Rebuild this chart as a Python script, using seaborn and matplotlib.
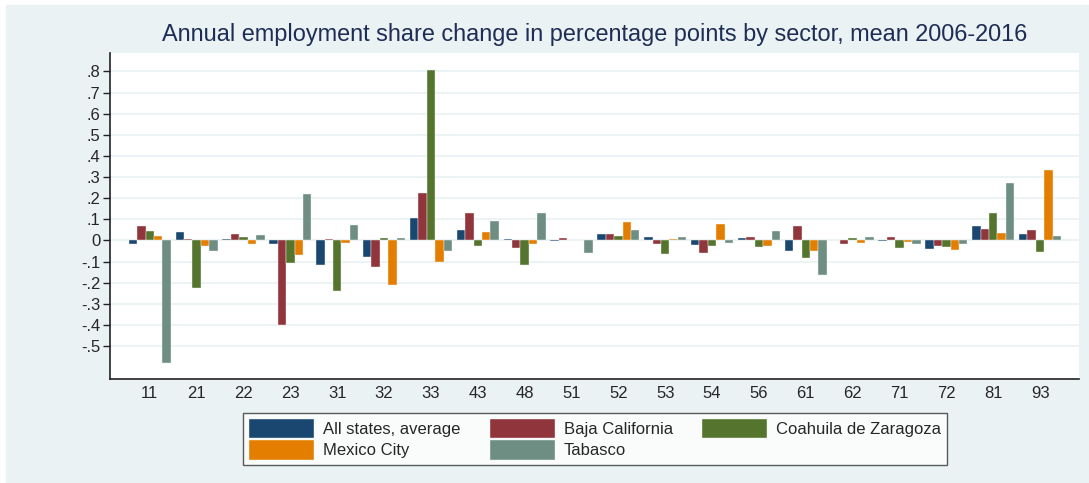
import pandas as pd
import matplotlib.pyplot as plt
import matplotlib.patches as mpatches
import seaborn as sns

# sector codes and series values (percentage points)
sectors = ['11', '21', '22', '23', '31', '32', '33', '43', '48', '51',
           '52', '53', '54', '56', '61', '62', '71', '72', '81', '93']
series = ['All states, average', 'Baja California', 'Coahuila de Zaragoza',
          'Mexico City', 'Tabasco']

all_states = [-0.016, 0.038, 0.006, -0.019, -0.115, -0.079, 0.104, 0.050, 0.005, -0.003,
              0.031, 0.016, -0.022, 0.011, -0.050, 0.003, -0.003, -0.039, 0.070, 0.028]
baja = [0.066, 0.005, 0.030, -0.400, 0.009, -0.124, 0.226, 0.130, -0.036, 0.013,
        0.028, -0.017, -0.061, 0.016, 0.067, -0.016, 0.014, -0.028, 0.052, 0.048]
coahuila = [0.045, -0.223, 0.017, -0.108, -0.240, 0.013, 0.806, -0.025, -0.116, 0.003,
            0.019, -0.066, -0.027, -0.033, -0.082, 0.011, -0.036, -0.031, 0.128, -0.055]
mexico_city = [0.020, -0.025, -0.016, -0.071, -0.011, -0.211, -0.103, 0.042, -0.017, 0.003,
               0.085, 0.009, 0.077, -0.028, -0.050, -0.013, -0.008, -0.045, 0.033, 0.333]
tabasco = [-0.580, -0.050, 0.024, 0.220, 0.072, 0.011, -0.050, 0.090, 0.131, -0.058,
           0.050, 0.017, -0.011, 0.044, -0.166, 0.016, -0.019, -0.019, 0.270, 0.023]

colors = ['#1a476f', '#90353b', '#55752f', '#e37e00', '#6e8e84']

df = pd.DataFrame({
    'sector': sectors * 5,
    'state': [s for s in series for _ in sectors],
    'value': all_states + baja + coahuila + mexico_city + tabasco,
})

sns.set_style("white")
plt.rcParams['font.family'] = ['Liberation Sans', 'DejaVu Sans']

bg = '#eaf2f3'
fig = plt.figure(figsize=(10.89, 4.83), dpi=100, facecolor='white')
fig.patches.append(mpatches.Rectangle((6 / 1089, 0), 1, 1 - 5 / 483,
                                      transform=fig.transFigure, color=bg, zorder=-10))
ax = fig.add_axes([110 / 1089, 1 - 379 / 483, (1079 - 110) / 1089, (379 - 53) / 483])
ax.set_facecolor('white')

sns.barplot(data=df, x='sector', y='value', hue='state', order=sectors,
            hue_order=series, palette=colors, width=0.9, errorbar=None,
            edgecolor='#f4f4f4', linewidth=0.3, saturation=1, ax=ax, zorder=3)

ax.set_xlim(-0.85, 19.83)
ax.set_ylim(-0.656, 0.887)
yt = [-0.5, -0.4, -0.3, -0.2, -0.1, 0, 0.1, 0.2, 0.3, 0.4, 0.5, 0.6, 0.7, 0.8]
ax.set_yticks(yt)
ax.set_yticklabels(['0' if v == 0 else f'{v:.1f}'.replace('0.', '.') for v in yt])
ax.yaxis.grid(True, color=bg, linewidth=1.3, zorder=0)
ax.set_axisbelow(True)
ax.tick_params(axis='y', length=5, width=1, color='#222222', labelsize=12, pad=2, direction='out', left=True)
ax.tick_params(axis='x', length=0, labelsize=12, pad=5)
for s in ['top', 'right']:
    ax.spines[s].set_visible(False)
for s in ['left', 'bottom']:
    ax.spines[s].set_color('#222222')
    ax.spines[s].set_linewidth(1.2)
ax.set_xlabel('')
ax.set_ylabel('')

fig.text(595 / 1089, 1 - 35 / 483, 'Annual employment share change in percentage points by sector, mean 2006-2016',
         ha='center', va='center', fontsize=16.9, color='#1e2d55')

handles, labels = ax.get_legend_handles_labels()
ax.get_legend().remove()
idx = [0, 3, 1, 4, 2]
leg = fig.legend([handles[i] for i in idx], [labels[i] for i in idx], ncol=3,
                 loc='center', bbox_to_anchor=(595 / 1089, 1 - 439 / 483),
                 frameon=True, fancybox=False, edgecolor='#333333', fontsize=12,
                 handlelength=3.9, handleheight=1.4, columnspacing=1.75,
                 labelspacing=0.15, borderpad=0.35, handletextpad=0.55)
leg.get_frame().set_linewidth(1)

fig.savefig('out.png', dpi=100, facecolor='white')
